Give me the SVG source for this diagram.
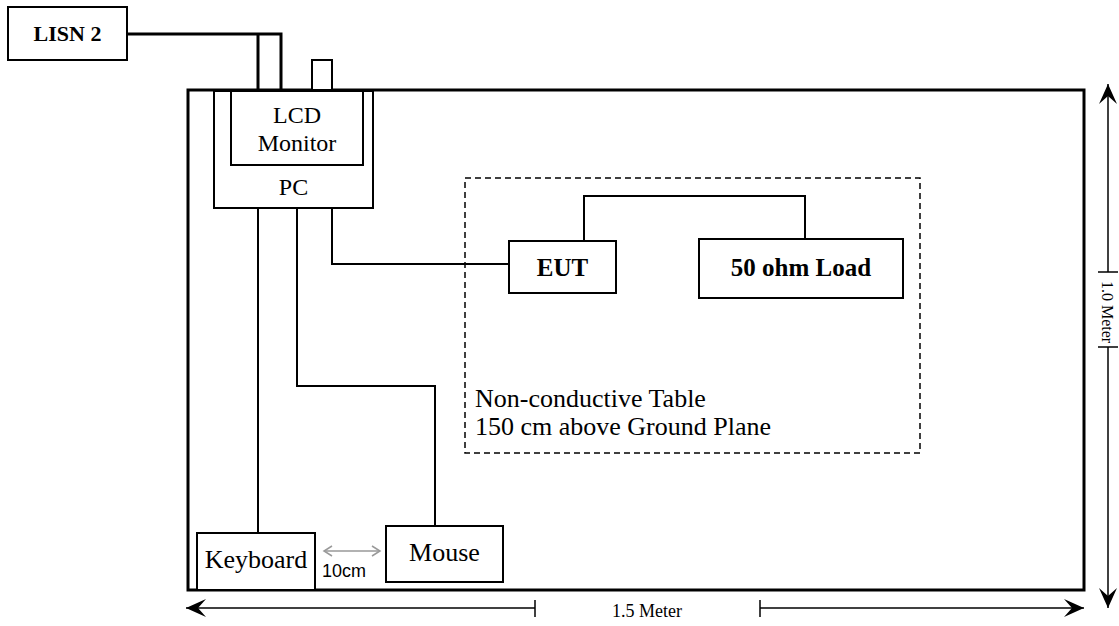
<svg xmlns="http://www.w3.org/2000/svg" width="1119" height="626" viewBox="0 0 1119 626">
<style>
.box{fill:#fff;stroke:#000;stroke-width:2}
.w{fill:none;stroke:#000;stroke-width:2}
.thick{fill:none;stroke:#000;stroke-width:3}
.t{font-family:"Liberation Serif","Times New Roman",serif;font-size:26px;fill:#000;text-anchor:middle}
.m{font-size:24px}
.b{font-family:"Liberation Serif","Times New Roman",serif;font-size:25px;font-weight:bold;fill:#000;text-anchor:middle}
.s{font-family:"Liberation Serif","Times New Roman",serif;font-size:18px;fill:#000;text-anchor:middle}
.dim{fill:none;stroke:#000;stroke-width:1.5}
</style>
<defs>
<marker id="arr" viewBox="-22 -10 24 20" refX="0" refY="0" markerWidth="24" markerHeight="20" markerUnits="userSpaceOnUse" orient="auto">
<path d="M0,0 L-20,-9 L-12,0 L-20,9 Z" fill="#000"/>
</marker>
<marker id="garr" viewBox="-10 -6 12 12" refX="0" refY="0" markerWidth="12" markerHeight="12" markerUnits="userSpaceOnUse" orient="auto-start-reverse">
<path d="M-8,-5 L0,0 L-8,5" fill="none" stroke="#999" stroke-width="1.5"/>
</marker>
</defs>
<rect width="1119" height="626" fill="#fff"/>
<g id="table">
<rect x="188" y="90" width="896" height="500" fill="none" stroke="#000" stroke-width="3"/>
</g>
<g id="zone">
<rect x="465" y="178" width="455" height="275" fill="none" stroke="#000" stroke-width="1.5" stroke-dasharray="6,4"/>
<text class="t" x="475" y="407" style="text-anchor:start">Non-conductive Table</text>
<text class="t" x="475" y="435" style="text-anchor:start">150 cm above Ground Plane</text>
</g>
<g id="connectors">
<path class="thick" d="M127,34 H281 V90 M258,34 V90"/>
<rect x="312" y="60" width="20" height="30" class="box" stroke-width="1.5"/>
<path class="w" d="M258,208 V533"/>
<path class="w" d="M297,208 V386 H435 V526"/>
<path class="w" d="M332,208 V264 H509"/>
<path class="w" d="M584,241 V196 H805 V239"/>
</g>
<g id="lisn">
<rect x="8" y="7" width="119" height="53" class="box"/>
<text class="b" x="67.5" y="41" style="font-size:22px">LISN 2</text>
</g>
<g id="pc">
<rect x="214" y="91" width="159" height="117" class="box"/>
<text class="t m" x="293.5" y="195">PC</text>
</g>
<g id="lcd">
<rect x="231" y="91" width="132" height="74" class="box"/>
<text class="t m" x="297" y="123">LCD</text>
<text class="t m" x="297" y="151">Monitor</text>
</g>
<g id="eut">
<rect x="509" y="241" width="107" height="52" class="box"/>
<text class="b" x="562.5" y="276">EUT</text>
</g>
<g id="load">
<rect x="699" y="239" width="204" height="59" class="box"/>
<text class="b" x="801" y="276">50 ohm Load</text>
</g>
<g id="keyboard">
<rect x="197" y="533" width="118" height="57" class="box"/>
<text class="t" x="256" y="568">Keyboard</text>
</g>
<g id="mouse">
<rect x="386" y="526" width="117" height="56" class="box"/>
<text class="t" x="444.5" y="561">Mouse</text>
</g>
<g id="spacing">
<line x1="324" y1="551" x2="380" y2="551" stroke="#999" stroke-width="1.5" marker-start="url(#garr)" marker-end="url(#garr)"/>
<text x="322" y="577" style="font-family:'Liberation Sans',Arial,sans-serif;font-size:18px;fill:#000">10cm</text>
</g>
<g id="dim-width">
<line x1="535" y1="608" x2="186" y2="608" class="dim" marker-end="url(#arr)"/>
<line x1="535" y1="600" x2="535" y2="617" class="dim"/>
<line x1="760" y1="608" x2="1084" y2="608" class="dim" marker-end="url(#arr)"/>
<line x1="760" y1="600" x2="760" y2="617" class="dim"/>
<text class="s" x="647" y="617">1.5 Meter</text>
</g>
<g id="dim-height">
<line x1="1108" y1="272" x2="1108" y2="84" class="dim" marker-end="url(#arr)"/>
<line x1="1098" y1="272" x2="1118" y2="272" class="dim"/>
<line x1="1108" y1="347" x2="1108" y2="608" class="dim" marker-end="url(#arr)"/>
<line x1="1098" y1="347" x2="1118" y2="347" class="dim"/>
<text class="s" x="0" y="0" style="font-size:16px" transform="translate(1102,312) rotate(90)">1.0 Meter</text>
</g>
</svg>
